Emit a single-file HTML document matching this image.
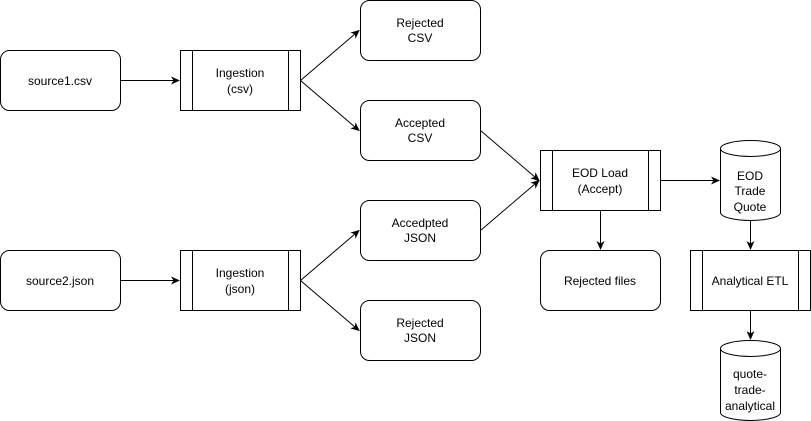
<!DOCTYPE html>
<html><head><style>body{margin:0;background:#fff}svg{display:block}text{font-family:"Liberation Sans",Arial,sans-serif;font-size:12px;fill:#000;text-anchor:middle}</style></head>
<body>
<svg width="811" height="421" viewBox="0 0 811 421" xmlns="http://www.w3.org/2000/svg">
<defs><marker id="a" markerWidth="10" markerHeight="10" refX="8" refY="4" orient="auto" markerUnits="userSpaceOnUse"><path d="M0,0 L9,4 L0,8 L2.5,4 Z" fill="#000"/></marker></defs>
<g fill="#fff" stroke="#000" stroke-width="1">
<rect x="0.5" y="50.5" width="120" height="60" rx="9"/>
<rect x="0.5" y="250.5" width="120" height="60" rx="9"/>
<rect x="360.5" y="0.5" width="120" height="60" rx="9"/>
<rect x="360.5" y="100.5" width="120" height="60" rx="9"/>
<rect x="360.5" y="200.5" width="120" height="60" rx="9"/>
<rect x="360.5" y="300.5" width="120" height="60" rx="9"/>
<rect x="540.5" y="250.5" width="120" height="60" rx="9"/>
<rect x="180.5" y="50.5" width="120" height="60"/><path d="M192.5 50.5V110.5M288.5 50.5V110.5"/>
<rect x="180.5" y="250.5" width="120" height="60"/><path d="M192.5 250.5V310.5M288.5 250.5V310.5"/>
<rect x="540.5" y="150.5" width="120" height="60"/><path d="M552.5 150.5V210.5M648.5 150.5V210.5"/>
<rect x="690.5" y="250.5" width="120" height="60"/><path d="M702.5 250.5V310.5M798.5 250.5V310.5"/>
<path d="M720.5 148.5 A30 8 0 0 1 780.5 148.5 V212.5 A30 8 0 0 1 720.5 212.5 Z"/>
<path d="M720.5 148.5 A30 8 0 0 0 780.5 148.5"/>
<path d="M720.5 348.5 A30 8 0 0 1 780.5 348.5 V412.5 A30 8 0 0 1 720.5 412.5 Z"/>
<path d="M720.5 348.5 A30 8 0 0 0 780.5 348.5"/>
</g>
<g stroke="#000" stroke-width="1" fill="none" marker-end="url(#a)">
<path d="M120.5 80.5H179"/>
<path d="M120.5 280.5H179"/>
<path d="M300.5 80.5L359 30.5"/>
<path d="M300.5 80.5L359 130.5"/>
<path d="M300.5 280.5L359 230.5"/>
<path d="M300.5 280.5L359 330.5"/>
<path d="M480.5 130.5L539 180.5"/>
<path d="M480.5 230.5L539 180.5"/>
<path d="M660.5 180.5H719"/>
<path d="M600.5 210.5V249"/>
<path d="M750.5 220.5V249"/>
<path d="M750.5 310.5V339"/>
</g>
<text x="60" y="85">source1.csv</text>
<text x="60" y="285">source2.json</text>
<text x="240" y="77">Ingestion</text><text x="240" y="93">(csv)</text>
<text x="240" y="277">Ingestion</text><text x="240" y="293">(json)</text>
<text x="420" y="27">Rejected</text><text x="420" y="42">CSV</text>
<text x="420" y="127">Accepted</text><text x="420" y="142">CSV</text>
<text x="420" y="227">Accedpted</text><text x="420" y="242">JSON</text>
<text x="420" y="327">Rejected</text><text x="420" y="342">JSON</text>
<text x="600" y="177">EOD Load</text><text x="600" y="193">(Accept)</text>
<text x="600" y="285">Rejected files</text>
<text x="750" y="285">Analytical ETL</text>
<text x="750" y="180">EOD</text><text x="750" y="195">Trade</text><text x="750" y="211">Quote</text>
<text x="750" y="378">quote-</text><text x="750" y="394">trade-</text><text x="750" y="410">analytical</text>
</svg>
</body></html>
